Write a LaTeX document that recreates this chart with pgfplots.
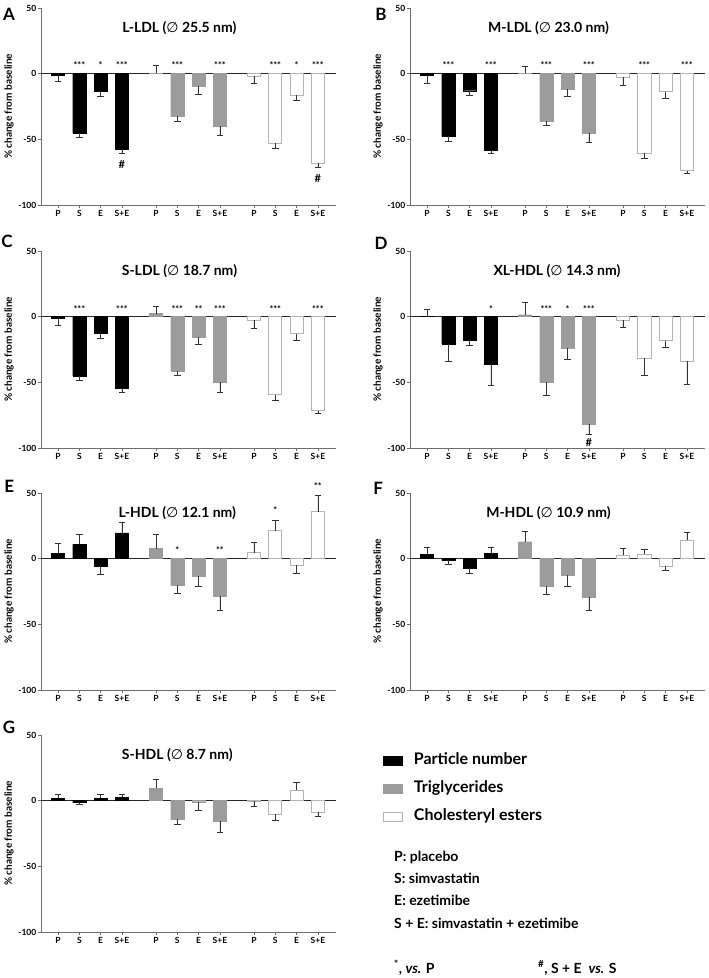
\documentclass[border=0pt]{standalone}
\usepackage{fontspec}
\setmainfont{Lato}
\newfontfamily\dejavu{DejaVu Sans}
\usepackage{pgfplots}
\pgfplotsset{compat=1.18}
\usepackage{pgfplotstable}
\definecolor{tggray}{HTML}{9C9C9C}
\definecolor{cegray}{HTML}{B4B4B4}
\definecolor{axgray}{HTML}{6E6E6E}
\newcommand\fs[1]{\fontsize{#1}{#1}\selectfont}
\newcommand\diam{{\dejavu\mdseries ∅}}

\pgfplotstableread{
cat pn pne tg tge ce cee
1 -1.5 -4.5 0.5 5.5 -1.8 -5.2
2 -45.3 -3.3 -32.6 -3.8 -53 -4
3 -13.7 -3.6 -9.7 -5.8 -16.5 -3.5
4 -57.5 -3.3 -40.2 -6.6 -68.2 -3.3
}\tabA
\pgfplotstableread{
cat pn pne tg tge ce cee
1 -1.5 -5.5 0.3 5.3 -2.8 -6.4
2 -47.8 -3.9 -36.4 -3.3 -60.6 -4
3 -13 -3.5 -11.5 -5.8 -13.7 -5.3
4 -58.5 -2.5 -45.3 -6.9 -73.8 -2
}\tabB
\pgfplotstableread{
cat pn pne tg tge ce cee
1 -1.5 -4.8 2.3 5.5 -2.8 -6
2 -45.2 -3.5 -41.4 -3.3 -59.3 -4.6
3 -12.9 -3.3 -15.4 -5.3 -13.1 -5.3
4 -54.3 -3.3 -50 -7.3 -71.5 -2.2
}\tabC
\pgfplotstableread{
cat pn pne tg tge ce cee
1 0.2 5.6 1.5 9.4 -2.5 -5.8
2 -20.7 -13.1 -49.7 -9.9 -31.6 -13.4
3 -18.2 -3.3 -24.2 -8.6 -18.2 -5.5
4 -35.9 -16.1 -81.8 -7.6 -33.8 -18
}\tabD
\pgfplotstableread{
cat pn pne tg tge ce cee
1 4.3 7.1 7.6 10.6 4.5 7.6
2 10.9 7.5 -20.2 -6.3 21.2 8.3
3 -6 -6.1 -13.4 -7.6 -4.8 -6.6
4 19.7 8.3 -28.3 -11.1 35.9 12.6
}\tabE
\pgfplotstableread{
cat pn pne tg tge ce cee
1 3.3 5 12.9 7.8 2.5 5.1
2 -1.3 -3.2 -21 -6.3 3.3 3.5
3 -7.3 -3.6 -12.6 -8.4 -5.6 -3.5
4 4.3 4.5 -29.5 -9.6 13.9 5.8
}\tabF
\pgfplotstableread{
cat pn pne tg tge ce cee
1 1.8 3.3 9.4 7.1 -0.5 -4.1
2 -1.5 -1.5 -13.9 -3.8 -10.4 -4.3
3 1.8 2.8 -0.8 -6.8 8.1 5.6
4 2.5 2.6 -15.7 -8.3 -8.6 -3
}\tabG

\pgfplotsset{
 panelaxis/.style={
  scale only axis, width=295pt, height=197pt, anchor=south west,
  xmin=0.2, xmax=14.05, ymin=-100, ymax=50,
  axis lines=left, axis line style={-, draw=axgray, line width=0.8pt},
  ytick={-100,-50,0,50}, yticklabels={-100,-50,0,50},
  xtick={1,2,3,4,5.6,6.6,7.6,8.6,10.2,11.2,12.2,13.2},
  xticklabels={P,S,E,S+E,P,S,E,S+E,P,S,E,S+E},
  tick align=outside, major tick length=3pt,
  tick style={draw=axgray, line width=0.7pt},
  xticklabel style={anchor=north, font=\bfseries\fs{8.5}, inner sep=1pt, yshift=-1.5pt},
  yticklabel style={font=\bfseries\fs{8.5}, inner sep=1.5pt},
  ylabel={\% change from baseline},
  ylabel style={font=\bfseries\fs{10}, at={(axis description cs:-0.108,0.5)}, anchor=center},
  clip=false,
  ybar, bar width=0.62, bar shift=0pt,
  extra y ticks={0}, extra y tick labels={},
  extra y tick style={grid=major, major grid style={black!85, line width=0.9pt}},
  error bars/y dir=plus, error bars/y explicit,
  error bars/error mark=-,
  error bars/error bar style={black!80, line width=0.7pt},
  error bars/error mark options={rotate=90, black!80, line width=0.7pt, mark size=3.3pt},
 },
 pn/.style={fill=black, draw=black},
 tg/.style={fill=tggray, draw=tggray},
 ce/.style={fill=white, draw=cegray, line width=0.8pt},
 sqleg/.style={legend image code/.code={\draw[##1] (0pt,-4.5pt) rectangle (19pt,4.5pt);}},
}
\tikzset{
 sig/.style={font=\bfseries\fs{9}, inner sep=0pt},
 hash/.style={font=\bfseries\fs{11}, inner sep=0pt},
 ttl/.style={font=\bfseries\fs{14}},
 letter/.style={font=\bfseries\fs{17}},
}

\begin{document}
\begin{tikzpicture}
\useasboundingbox (0,0) rectangle (709pt,-978pt);

% ---------- A ----------
\begin{axis}[panelaxis, at={(41pt,-205pt)}]
\addplot[pn] table[x=cat, y=pn, y error=pne] {\tabA};
\addplot[tg] table[x expr=\thisrow{cat}+4.6, y=tg, y error=tge] {\tabA};
\addplot[ce] table[x expr=\thisrow{cat}+9.2, y=ce, y error=cee] {\tabA};
\node[ttl] at (axis cs:6.7,35) {L-LDL (\diam{} 25.5 nm)};
\node[letter] at (axis description cs:-0.108,0.97) {A};
\node[sig] at (axis cs:2,6.5) {***};
\node[sig] at (axis cs:3,6.5) {*};
\node[sig] at (axis cs:4,6.5) {***};
\node[sig] at (axis cs:6.6,6.5) {***};
\node[sig] at (axis cs:8.6,6.5) {***};
\node[sig] at (axis cs:11.2,6.5) {***};
\node[sig] at (axis cs:12.2,6.5) {*};
\node[sig] at (axis cs:13.2,6.5) {***};
\node[hash] at (axis cs:4,-69) {\#};
\node[hash] at (axis cs:13.2,-80) {\#};
\end{axis}

% ---------- B ----------
\begin{axis}[panelaxis, at={(410pt,-205pt)}]
\addplot[pn] table[x=cat, y=pn, y error=pne] {\tabB};
\addplot[tg] table[x expr=\thisrow{cat}+4.6, y=tg, y error=tge] {\tabB};
\addplot[ce] table[x expr=\thisrow{cat}+9.2, y=ce, y error=cee] {\tabB};
\node[ttl] at (axis cs:6.7,35) {M-LDL (\diam{} 23.0 nm)};
\node[letter] at (axis description cs:-0.098,0.97) {B};
\node[sig] at (axis cs:2,6.5) {***};
\node[sig] at (axis cs:4,6.5) {***};
\node[sig] at (axis cs:6.6,6.5) {***};
\node[sig] at (axis cs:8.6,6.5) {***};
\node[sig] at (axis cs:11.2,6.5) {***};
\node[sig] at (axis cs:13.2,6.5) {***};
\end{axis}

% ---------- C ----------
\begin{axis}[panelaxis, at={(41pt,-448pt)}]
\addplot[pn] table[x=cat, y=pn, y error=pne] {\tabC};
\addplot[tg] table[x expr=\thisrow{cat}+4.6, y=tg, y error=tge] {\tabC};
\addplot[ce] table[x expr=\thisrow{cat}+9.2, y=ce, y error=cee] {\tabC};
\node[ttl] at (axis cs:6.7,35) {S-LDL (\diam{} 18.7 nm)};
\node[letter] at (axis description cs:-0.115,1.05) {C};
\node[sig] at (axis cs:2,6) {***};
\node[sig] at (axis cs:4,6) {***};
\node[sig] at (axis cs:6.6,6) {***};
\node[sig] at (axis cs:7.6,6) {**};
\node[sig] at (axis cs:8.6,6) {***};
\node[sig] at (axis cs:11.2,6) {***};
\node[sig] at (axis cs:13.2,6) {***};
\end{axis}

% ---------- D ----------
\begin{axis}[panelaxis, at={(410pt,-448pt)}]
\addplot[pn] table[x=cat, y=pn, y error=pne] {\tabD};
\addplot[tg] table[x expr=\thisrow{cat}+4.6, y=tg, y error=tge] {\tabD};
\addplot[ce] table[x expr=\thisrow{cat}+9.2, y=ce, y error=cee] {\tabD};
\node[ttl] at (axis cs:7.1,35) {XL-HDL (\diam{} 14.3 nm)};
\node[letter] at (axis description cs:-0.098,1.04) {D};
\node[sig] at (axis cs:4,6) {*};
\node[sig] at (axis cs:6.6,6) {***};
\node[sig] at (axis cs:7.6,6) {*};
\node[sig] at (axis cs:8.6,6) {***};
\node[hash] at (axis cs:8.6,-96) {\#};
\end{axis}

% ---------- E ----------
\begin{axis}[panelaxis, at={(41pt,-690pt)}]
\addplot[pn] table[x=cat, y=pn, y error=pne] {\tabE};
\addplot[tg] table[x expr=\thisrow{cat}+4.6, y=tg, y error=tge] {\tabE};
\addplot[ce] table[x expr=\thisrow{cat}+9.2, y=ce, y error=cee] {\tabE};
\node[ttl] at (axis cs:6.6,35) {L-HDL (\diam{} 12.1 nm)};
\node[letter] at (axis description cs:-0.108,1.036) {E};
\node[sig] at (axis cs:6.6,6.3) {*};
\node[sig] at (axis cs:8.6,6.3) {**};
\node[sig] at (axis cs:11.2,37) {*};
\node[sig] at (axis cs:13.2,55.5) {**};
\end{axis}

% ---------- F ----------
\begin{axis}[panelaxis, at={(410pt,-690pt)}]
\addplot[pn] table[x=cat, y=pn, y error=pne] {\tabF};
\addplot[tg] table[x expr=\thisrow{cat}+4.6, y=tg, y error=tge] {\tabF};
\addplot[ce] table[x expr=\thisrow{cat}+9.2, y=ce, y error=cee] {\tabF};
\node[ttl] at (axis cs:6.7,35) {M-HDL (\diam{} 10.9 nm)};
\node[letter] at (axis description cs:-0.108,1.025) {F};
\end{axis}

% ---------- G ----------
\begin{axis}[panelaxis, at={(41pt,-932pt)},
  legend style={at={(1.149,0.726)}, anchor=west, draw=none, fill=none,
    font=\bfseries\fs{16}, row sep=15pt,
    nodes={inner sep=0pt, text height=10pt, text depth=3pt},
    /tikz/every odd column/.append style={column sep=11pt}},
  legend cell align=left]
\addplot[pn, sqleg] table[x=cat, y=pn, y error=pne] {\tabG};
\addlegendentry{Particle number}
\addplot[tg, sqleg] table[x expr=\thisrow{cat}+4.6, y=tg, y error=tge] {\tabG};
\addlegendentry{Triglycerides}
\addplot[ce, sqleg] table[x expr=\thisrow{cat}+9.2, y=ce, y error=cee] {\tabG};
\addlegendentry{Cholesteryl esters}
\node[ttl] at (axis cs:6.6,35) {S-HDL (\diam{} 8.7 nm)};
\node[letter] at (axis description cs:-0.108,1.04) {G};
\end{axis}

% ---------- key text ----------
\begin{scope}[every node/.style={anchor=base west, font=\bfseries\fs{14}, inner sep=0pt}]
\node at (394pt,-861pt) {P: placebo};
\node at (394pt,-883pt) {S: simvastatin};
\node at (394pt,-905pt) {E: ezetimibe};
\node at (394pt,-928pt) {S + E: simvastatin + ezetimibe};
\node at (394pt,-973pt) {\textsuperscript{*}, \textit{vs.} P};
\node at (538pt,-973pt) {\textsuperscript{\#}, S + E\ \ \textit{vs.} S};
\end{scope}
\end{tikzpicture}
\end{document}
